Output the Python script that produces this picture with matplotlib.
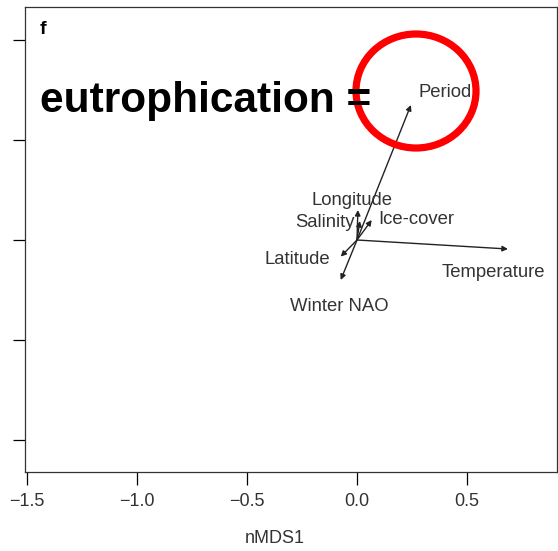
import matplotlib
matplotlib.use("Agg")
import matplotlib.pyplot as plt
from matplotlib.patches import Ellipse

plt.rcParams["font.family"] = ["Liberation Sans", "DejaVu Sans"]

# environmental vectors (nMDS1, nMDS2)
variables = ["Period", "Temperature", "Longitude", "Salinity", "Ice-cover", "Latitude", "Winter NAO"]
vec_x = [0.245, 0.686, 0.004, 0.013, 0.067, -0.074, -0.074]
vec_y = [0.675, -0.045, 0.15, 0.095, 0.10, -0.083, -0.2]
# label positions
label_x = [0.40, 0.62, -0.025, -0.145, 0.27, -0.27, -0.08]
label_y = [0.737, -0.162, 0.197, 0.087, 0.10, -0.098, -0.333]

x_ticks = [-1.5, -1.0, -0.5, 0.0, 0.5]
x_tick_labels = ["\u22121.5", "\u22121.0", "\u22120.5", "0.0", "0.5"]
y_ticks = [-1.0, -0.5, 0.0, 0.5, 1.0]

fig = plt.figure(figsize=(5.58, 5.51), dpi=100)
ax = fig.add_axes([25 / 558, 79 / 551, 532 / 558, 465 / 551])

text_col = "#333333"
for name, vx, vy, lx, ly in zip(variables, vec_x, vec_y, label_x, label_y):
    ax.annotate("", xy=(vx, vy), xytext=(0, 0),
                arrowprops=dict(arrowstyle="-|>", mutation_scale=8, lw=1.0,
                                color="#222222", shrinkA=0, shrinkB=0))
    ax.text(lx, ly, name, ha="center", va="center", fontsize=13.3, color=text_col)

ax.set_xlim(-1.509, 0.909)
ax.set_ylim(-1.16, 1.165)
ax.set_xticks(x_ticks)
ax.set_xticklabels(x_tick_labels, fontsize=13, color=text_col)
ax.set_yticks(y_ticks)
ax.set_yticklabels([])
ax.tick_params(direction="out", length=9, width=0.9, pad=6)
for s in ax.spines.values():
    s.set_linewidth(0.9)
    s.set_color("#333333")

ax.set_xlabel("nMDS1", fontsize=13, color=text_col)
ax.xaxis.set_label_coords(0.47, -0.125)

# panel letter
ax.text(0.034, 0.97, "f", transform=ax.transAxes, fontsize=14,
        fontweight="bold", ha="center", va="top")

# annotation overlay
fig.text(40 / 558, 1 - 101 / 551, "eutrophication =", fontsize=30.5,
         fontweight="bold", ha="left", va="center", color="black")
circle = Ellipse((416 / 558, 1 - 91 / 551), 120 / 558, 114 / 551,
                 transform=fig.transFigure, fill=False, edgecolor="#ff0000", lw=5.2)
fig.patches.append(circle)

fig.savefig("out.png", dpi=100)
